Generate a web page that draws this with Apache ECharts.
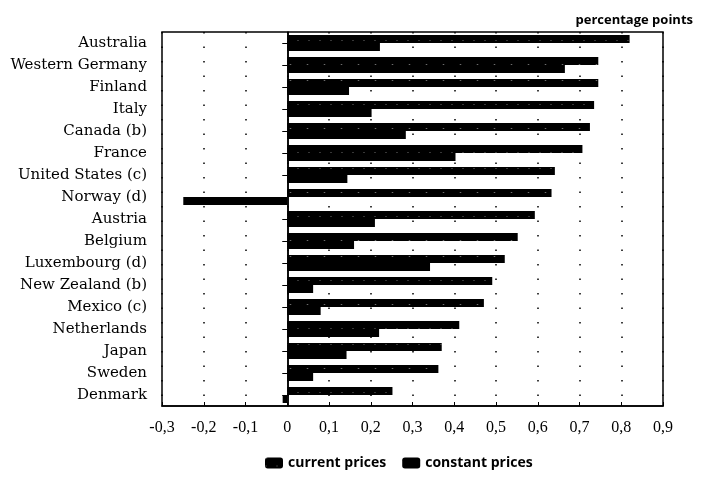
<!DOCTYPE html>
<html>
<head>
<meta charset="utf-8">
<script src="https://cdn.jsdelivr.net/npm/echarts@6/dist/echarts.min.js"></script>
<style>html,body{margin:0;padding:0;background:#fff;}#c{width:704px;height:478px;}</style>
</head>
<body>
<div id="c"></div>
<script>
const categories = ["Australia","Western Germany","Finland","Italy","Canada (b)","France","United States (c)","Norway (d)","Austria","Belgium","Luxembourg (d)","New Zealand (b)","Mexico (c)","Netherlands","Japan","Sweden","Denmark"];
const currentPrices = [0.82,0.745,0.745,0.735,0.725,0.707,0.641,0.633,0.593,0.552,0.521,0.491,0.471,0.412,0.37,0.362,0.252];
const constantPrices = [0.222,0.665,0.148,0.202,0.284,0.403,0.144,-0.249,0.21,0.16,0.342,0.062,0.08,0.22,0.142,0.062,-0.011];
const xTicks = {min:-0.3, max:0.9, interval:0.1};
const unitLabel = "percentage points";
const seriesNames = ["current prices","constant prices"];

const chart = echarts.init(document.getElementById('c'), null, {renderer:'canvas'});
const serif = '"Liberation Serif", "DejaVu Serif", serif';
chart.setOption({
  animation:false,
  backgroundColor:'#fff',
  title:{text:unitLabel, right:6, top:9, textStyle:{fontFamily:'"Open Sans", sans-serif', fontSize:13, fontWeight:'bold', color:'#000'}},
  legend:{bottom:3, left:260, itemWidth:18, itemHeight:11, itemGap:16,
    textStyle:{fontFamily:'"Open Sans", sans-serif', fontSize:14, fontWeight:'bold', color:'#000'},
    data:seriesNames},
  grid:{left:162, right:41, top:32, bottom:72, show:true, borderColor:'#000', borderWidth:1.5, backgroundColor:'transparent'},
  xAxis:{type:'value', min:xTicks.min, max:xTicks.max, interval:xTicks.interval,
    axisLine:{show:true, lineStyle:{color:'#000', width:1.5}},
    axisTick:{show:true, inside:true, length:4, lineStyle:{color:'#000'}},
    axisLabel:{color:'#000', fontFamily:serif, fontSize:16, margin:14,
      formatter:v=>{const r=Math.round(v*10)/10; return r===0?'0':String(r).replace('.',',');}},
    splitLine:{show:true, lineStyle:{color:'#000', type:[1.5,13], width:1.5}}},
  yAxis:{type:'category', data:categories, inverse:true,
    axisLine:{show:true, lineStyle:{color:'#000', width:1.5}},
    axisTick:{show:true, alignWithLabel:true, length:5, lineStyle:{color:'#000'}},
    axisLabel:{color:'#000', fontFamily:'"DejaVu Serif", serif', fontSize:15, margin:15},
    splitLine:{show:false}},
  series:[
    {name:seriesNames[0], type:'bar', data:currentPrices, barWidth:8, barGap:'0%',
      itemStyle:{color:'#000',
        decal:{symbol:'rect', symbolSize:0.5, color:'rgba(255,255,255,0.85)', dashArrayX:[[2,9],[3,14]], dashArrayY:[1,7], rotation:0}},
      markLine:{silent:true, symbol:'none', label:{show:false}, lineStyle:{color:'#000', type:'solid', width:1.5},
        data:[{xAxis:0}]}},
    {name:seriesNames[1], type:'bar', data:constantPrices, barWidth:8,
      itemStyle:{color:'#000'}}
  ]
});
</script>
</body>
</html>
